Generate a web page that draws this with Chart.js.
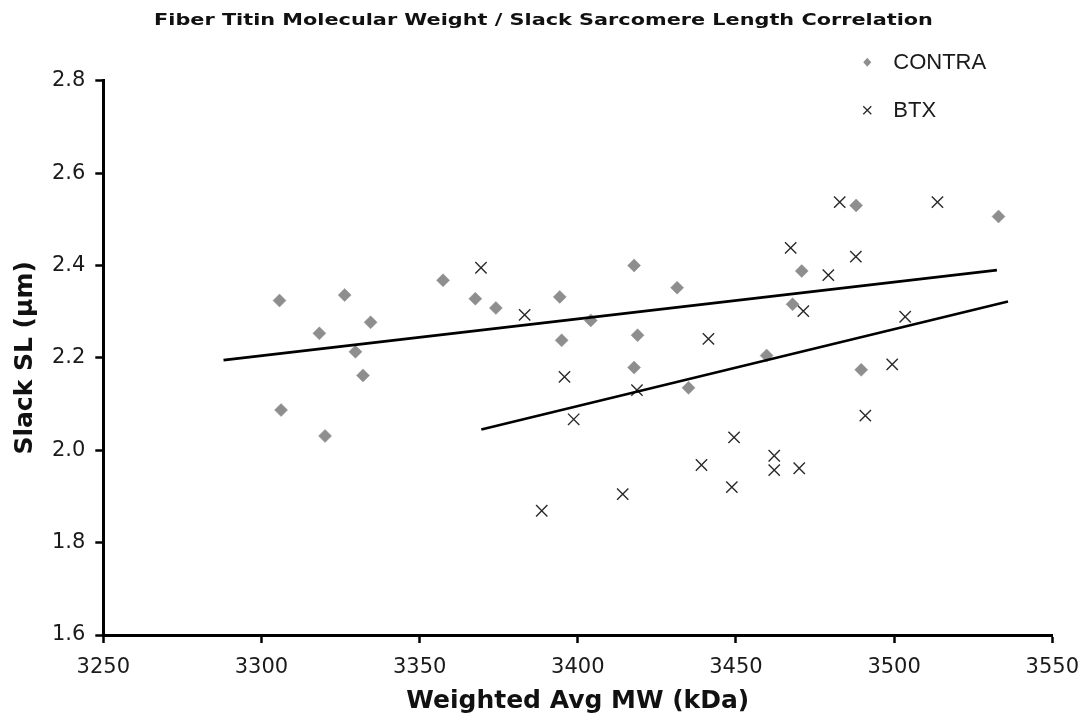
<!DOCTYPE html>
<html>
<head>
<meta charset="utf-8">
<title>Fiber Titin MW vs Slack SL</title>
<script src="https://cdn.jsdelivr.net/npm/chart.js"></script>
<style>
  html, body { margin: 0; padding: 0; background: #fff; }
  #wrap { width: 1091px; height: 719px; }
</style>
</head>
<body>
<div id="wrap"><canvas id="chart" width="1091" height="719"></canvas></div>
<script>
// ── data ─────────────────────────────────────────────────────────────────
const contraMW = [3305.7, 3326.3, 3318.3, 3334.5, 3329.7, 3332.1, 3306.2, 3320.1, 3357.4, 3367.6,
                  3374.1, 3394.3, 3417.8, 3431.4, 3404.1, 3394.9, 3418.9, 3417.8, 3435.0, 3470.8,
                  3488.0, 3533.0, 3467.9, 3459.7, 3489.6];
const contraSL = [2.324, 2.336, 2.253, 2.277, 2.213, 2.162, 2.087, 2.031, 2.368, 2.328,
                  2.308, 2.332, 2.400, 2.352, 2.281, 2.238, 2.249, 2.179, 2.135, 2.388,
                  2.530, 2.506, 2.316, 2.205, 2.174];

const btxMW = [3369.4, 3383.2, 3395.8, 3418.7, 3398.7, 3441.3, 3449.4, 3439.1, 3448.7, 3414.2,
               3388.6, 3482.8, 3513.7, 3467.3, 3487.9, 3479.2, 3471.3, 3503.5, 3499.4, 3490.9,
               3462.1, 3462.1, 3470.0];
const btxSL = [2.395, 2.293, 2.159, 2.130, 2.067, 2.241, 2.028, 1.968, 1.920, 1.905,
               1.869, 2.537, 2.537, 2.438, 2.419, 2.379, 2.301, 2.289, 2.186, 2.075,
               1.988, 1.957, 1.961];

// trend line end points
const contraFitMW = [3288, 3532.5];
const contraFitSL = [2.195, 2.390];
const btxFitMW = [3369.5, 3536];
const btxFitSL = [2.045, 2.322];

const seriesNames = ['CONTRA', 'BTX'];
const chartTitle = 'Fiber Titin Molecular Weight / Slack Sarcomere Length Correlation';
const xTicks = [3250, 3550, 50];   // min, max, step
const yTicks = [1.6, 2.8, 0.2];

const GREY = '#8e8e8e';
const DARK = '#2a2a2a';
const TICK_FONT = { family: 'DejaVu Sans, Verdana, sans-serif', size: 21 };
const TITLE_FONT = { family: 'DejaVu Sans, Verdana, sans-serif', size: 25, weight: 'bold' };

const pairs = (xs, ys) => xs.map((x, i) => ({ x, y: ys[i] }));

/** Wide bold title on top (the original's title is stretched sideways). */
const wideTitle = {
    id: 'wideTitle',
    afterDraw(chart) {
        const { ctx, width } = chart;
        ctx.save();
        ctx.translate(width / 2 - 2, 20.5);
        ctx.scale(1.3, 1);
        ctx.font = 'bold 16px "DejaVu Sans", Verdana, sans-serif';
        ctx.fillStyle = '#111';
        ctx.textAlign = 'center';
        ctx.textBaseline = 'middle';
        ctx.fillText(chartTitle, 0, 0);
        ctx.restore();
    },
};

/** Legend in the top-right corner, drawn over the plot like the original. */
const cornerLegend = {
    id: 'cornerLegend',
    afterDraw(chart) {
        const { ctx, chartArea } = chart;
        const mx = chartArea.right - 185;
        const tx = mx + 26;
        const rows = [chartArea.top - 18.5, chartArea.top + 29.5];
        ctx.save();
        // diamond
        ctx.fillStyle = GREY;
        ctx.beginPath();
        ctx.moveTo(mx, rows[0] - 4.5);
        ctx.lineTo(mx + 4, rows[0]);
        ctx.lineTo(mx, rows[0] + 4.5);
        ctx.lineTo(mx - 4, rows[0]);
        ctx.closePath();
        ctx.fill();
        // cross
        ctx.strokeStyle = DARK;
        ctx.lineWidth = 1.3;
        ctx.beginPath();
        ctx.moveTo(mx - 4, rows[1] - 4); ctx.lineTo(mx + 4, rows[1] + 4);
        ctx.moveTo(mx + 4, rows[1] - 4); ctx.lineTo(mx - 4, rows[1] + 4);
        ctx.stroke();
        // labels
        ctx.fillStyle = '#1a1a1a';
        ctx.font = '22px "Liberation Sans", Arial, sans-serif';
        ctx.textBaseline = 'middle';
        ctx.textAlign = 'left';
        seriesNames.forEach((name, i) => ctx.fillText(name, tx, rows[i] + 1));
        ctx.restore();
    },
};

new Chart(document.getElementById('chart'), {
    type: 'scatter',
    data: {
        datasets: [
            {
                label: 'CONTRA fit',
                data: pairs(contraFitMW, contraFitSL),
                showLine: true,
                borderColor: '#000',
                borderWidth: 2.6,
                pointRadius: 0,
            },
            {
                label: 'BTX fit',
                data: pairs(btxFitMW, btxFitSL),
                showLine: true,
                borderColor: '#000',
                borderWidth: 2.6,
                pointRadius: 0,
            },
            {
                label: seriesNames[0],
                data: pairs(contraMW, contraSL),
                pointStyle: 'rectRot',
                pointRadius: 6.5,
                backgroundColor: GREY,
                borderColor: GREY,
                borderWidth: 0.5,
            },
            {
                label: seriesNames[1],
                data: pairs(btxMW, btxSL),
                pointStyle: 'crossRot',
                pointRadius: 8,
                borderColor: DARK,
                borderWidth: 1.4,
            },
        ],
    },
    options: {
        responsive: false,
        animation: false,
        devicePixelRatio: 1,
        layout: { padding: { top: 80.7, right: 35, bottom: 0, left: 0 } },
        plugins: {
            legend: { display: false },
            tooltip: { enabled: false },
            title: { display: false },
        },
        scales: {
            x: {
                type: 'linear',
                min: xTicks[0],
                max: xTicks[1],
                afterFit: s => { s.height = 84; },
                ticks: {
                    stepSize: xTicks[2],
                    color: '#1a1a1a',
                    font: TICK_FONT,
                    padding: 12,
                    maxRotation: 0,
                    callback: v => String(v),
                },
                grid: { display: true, drawOnChartArea: false, drawTicks: true, tickLength: 8, tickWidth: 2.5, tickColor: '#000' },
                border: { display: true, color: '#000', width: 3 },
                title: {
                    display: true,
                    text: 'Weighted Avg MW (kDa)',
                    color: '#111',
                    font: TITLE_FONT,
                    padding: { top: 0, bottom: 3 },
                },
            },
            y: {
                type: 'linear',
                min: yTicks[0],
                max: yTicks[1],
                afterFit: s => { s.width = 103.3; },
                ticks: {
                    stepSize: yTicks[2],
                    color: '#1a1a1a',
                    font: TICK_FONT,
                    padding: 10,
                    callback: v => Number(v).toFixed(1),
                },
                grid: { display: true, drawOnChartArea: false, drawTicks: true, tickLength: 8, tickWidth: 2.5, tickColor: '#000' },
                border: { display: true, color: '#000', width: 3 },
                title: {
                    display: true,
                    text: 'Slack SL (μm)',
                    color: '#111',
                    font: TITLE_FONT,
                    padding: { top: 10, bottom: 0 },
                },
            },
        },
    },
    plugins: [wideTitle, cornerLegend],
});
</script>
</body>
</html>
